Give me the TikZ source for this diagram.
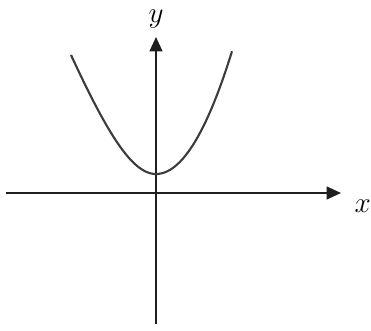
\documentclass[tikz,border=0pt]{standalone}
\usepackage{amsmath,amssymb}
\usepackage{tikz}
\usetikzlibrary{positioning,calc}
\usetikzlibrary{arrows.meta}
\definecolor{AxisInk}{RGB}{30,30,30}
\definecolor{CurveInk}{RGB}{60,60,60}
\tikzset{
  axis/.style={draw=AxisInk,line width=1.4pt,-{Triangle[length=3.6mm,width=3.2mm]}},
  curve/.style={draw=CurveInk,line width=1.5pt},
  lab/.style={inner sep=0pt,font=\fontsize{21}{23}\selectfont},
}

\begin{document}
\begin{tikzpicture}[scale=1]
\useasboundingbox (-3.9,-3.425) rectangle (5.375,4.825);
\coordinate (o) at (0,0);
\coordinate (xl) at (-3.75,0);
\coordinate (xr) at (4.625,0);
\coordinate (yb) at (0,-3.275);
\coordinate (yt) at (0,3.9);
\draw[axis] (xl)--(xr);
\draw[axis] (yb)--(yt);
% left and right branches meet at the vertex
\draw[curve] plot[domain=-2.125:0,samples=60,smooth] (\x,{0.475+2.6*(sqrt(\x*\x+1.96)-1.4)})
  -- plot[domain=0:1.9,samples=60,smooth] (\x,{0.475+0.85*\x*\x});
\node[lab] (ylab) at (0,4.36) {$y$};
\node[lab] (xlab) at (5.17,-0.32) {$x$};
\end{tikzpicture}
\end{document}
